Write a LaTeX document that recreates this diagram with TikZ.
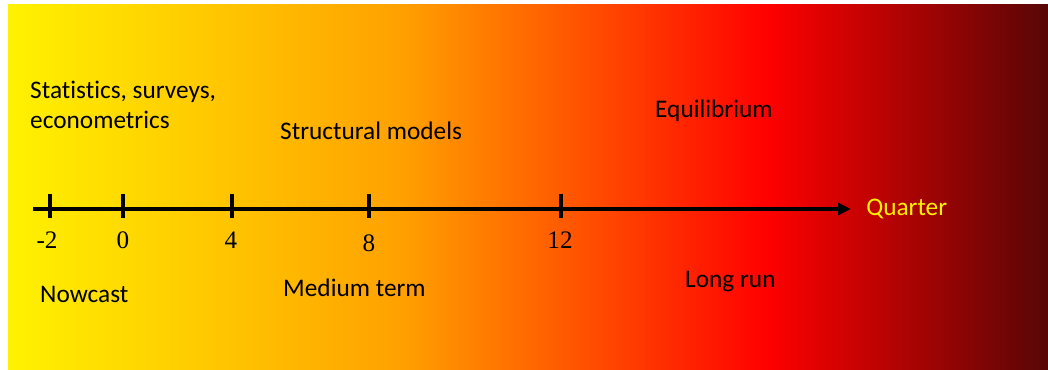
\documentclass[tikz,border=0pt]{standalone}
\usepackage{fontspec}
\setmainfont{Liberation Serif}
\newfontfamily\calibri[Ligatures=NoCommon]{Carlito}
\usetikzlibrary{arrows.meta,positioning}
\definecolor{hzyellow}{RGB}{255,242,0}
\definecolor{hzorange}{RGB}{255,160,0}
\definecolor{hzred}{RGB}{255,0,0}
\definecolor{hzdark}{RGB}{88,6,6}
% only the 25bp--75bp part of the shading is seen
\pgfdeclarehorizontalshading{horizon}{100bp}{color(0bp)=(hzyellow); color(25bp)=(hzyellow); color(44bp)=(hzorange); color(61.5bp)=(hzred); color(75bp)=(hzdark); color(100bp)=(hzdark)}

\begin{document}
\begin{tikzpicture}[x=0.03cm,y=-0.03cm,
  phase/.style={font=\calibri\fontsize{21.6}{25.5}\selectfont,align=left,inner sep=0pt},
  ticklabel/.style={font=\fontsize{21.5}{25}\selectfont,inner sep=0pt},
  axis/.style={line width=2.6pt,-{Triangle[length=11pt,width=10pt]}},
  tickmark/.style={line width=2.6pt}
]
  \useasboundingbox (0,0) rectangle (1048,370);
  % Background
  \shade[shading=horizon] (8,5) rectangle (1048,370);

  % Phases above the axis
  \node[phase,anchor=west] (stats) at (30,105) {Statistics, surveys,\\econometrics};
  \node[phase,anchor=west] (struct) at (280,131) {Structural models};
  \node[phase,anchor=west] (equil) at (655,111) {Equilibrium};

  % Axis
  \coordinate (origin) at (33,209);
  \coordinate (tip) at (851,209);
  \draw[axis] (origin) -- (tip);
  \node[phase,text=hzyellow,right=0.45cm of tip] (quarter) {Quarter};
  \foreach \q/\x/\dy in {-2/47/0,0/123/0,4/231/0,8/369/3,12/560/0}{
    \coordinate (t\q) at (\x,209);
    \node[ticklabel] (q\q) at (\x,240+\dy) {\q};
  }
  \foreach \x in {50,123,232,369,561}
    \draw[tickmark] (\x,194) -- (\x,218);

  % Horizons below the axis
  \node[phase,anchor=west] (nowcast) at (40,294) {Nowcast};
  \node[phase,anchor=west] (medium) at (283,288) {Medium term};
  \node[phase,anchor=west] (longrun) at (685,282) {Long run};
\end{tikzpicture}
\end{document}
